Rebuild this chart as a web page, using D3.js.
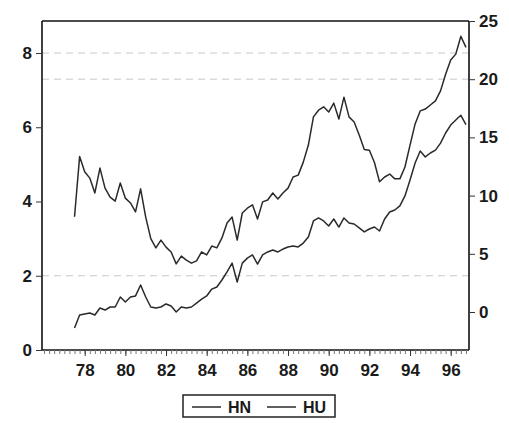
<!DOCTYPE html>
<html>
<head>
<meta charset="utf-8">
<script src="https://cdn.jsdelivr.net/npm/d3@7"></script>
<style>
  html, body { margin: 0; padding: 0; background: #fff; }
  svg { display: block; }
  text { font-family: "Liberation Sans", Arial, sans-serif; font-weight: bold; fill: #1a1a1a; }
</style>
</head>
<body>
<svg id="chart" width="509" height="423"></svg>
<script>
// Quarterly series, 1977Q3 .. 1996Q4
const startPeriod = 1977.5;

// HN, plotted against the left scale
const hn = [
  3.59, 5.21, 4.80, 4.63, 4.23, 4.90, 4.36, 4.12, 4.01, 4.50,
  4.09, 3.96, 3.72, 4.34, 3.58, 3.00, 2.75, 2.96, 2.77, 2.64,
  2.32, 2.53, 2.42, 2.34, 2.40, 2.64, 2.56, 2.80, 2.75, 3.02,
  3.42, 3.58, 2.96, 3.69, 3.82, 3.91, 3.53, 3.99, 4.04, 4.23,
  4.07, 4.23, 4.36, 4.66, 4.71, 5.06, 5.52, 6.28, 6.46, 6.55,
  6.41, 6.65, 6.22, 6.81, 6.28, 6.14, 5.79, 5.40, 5.38, 5.05,
  4.53, 4.66, 4.74, 4.61, 4.61, 4.93, 5.52, 6.09, 6.44, 6.49,
  6.60, 6.71, 6.98, 7.43, 7.81, 7.97, 8.45, 8.15
];

// HU, plotted against the right scale
const hu = [
  -1.38, -0.26, -0.17, -0.09, -0.26, 0.34, 0.17, 0.43, 0.43, 1.29,
  0.86, 1.29, 1.38, 2.32, 1.29, 0.43, 0.34, 0.43, 0.69, 0.52,
  0.00, 0.43, 0.34, 0.43, 0.77, 1.11, 1.38, 1.97, 2.15, 2.75,
  3.44, 4.20, 2.58, 4.20, 4.63, 4.90, 4.12, 4.90, 5.16, 5.33,
  5.16, 5.41, 5.59, 5.67, 5.59, 5.92, 6.45, 7.82, 8.08, 7.82,
  7.39, 7.99, 7.30, 8.08, 7.65, 7.56, 7.22, 6.88, 7.13, 7.30,
  6.96, 7.99, 8.59, 8.76, 9.11, 9.97, 11.34, 12.80, 13.83, 13.32,
  13.66, 13.91, 14.51, 15.38, 16.06, 16.49, 16.90, 16.09
];

const yearTicks = [1978, 1980, 1982, 1984, 1986, 1988, 1990, 1992, 1994, 1996];
const yearLabels = ["78", "80", "82", "84", "86", "88", "90", "92", "94", "96"];
const leftTicks = [0, 2, 4, 6, 8];
const rightTicks = [0, 5, 10, 15, 20, 25];
const gridLeft = [8, 2];
const gridRight = [20];
const seriesNames = ["HN", "HU"];

const svg = d3.select("#chart");
const plot = { left: 42, right: 469, top: 21, bottom: 350 };

const x = d3.scaleLinear().domain([1975.9, 1996.9]).range([plot.left, plot.right]);
const yL = d3.scaleLinear().domain([0, 8]).range([350, 53]);
const yR = d3.scaleLinear().domain([0, 25]).range([312, plot.top]);

const period = i => startPeriod + i / 4;

// dashed grid
const grid = svg.append("g")
  .attr("stroke", "#c8c8c8").attr("stroke-width", 1).attr("stroke-dasharray", "7,5");
gridLeft.forEach(v => grid.append("line")
  .attr("x1", plot.left).attr("x2", plot.right).attr("y1", yL(v)).attr("y2", yL(v)));
gridRight.forEach(v => grid.append("line")
  .attr("x1", plot.left).attr("x2", plot.right).attr("y1", yR(v)).attr("y2", yR(v)));

// series lines
const lineL = d3.line().x((d, i) => x(period(i))).y(d => yL(d));
const lineR = d3.line().x((d, i) => x(period(i))).y(d => yR(d));
svg.append("path").datum(hn).attr("d", lineL)
  .attr("fill", "none").attr("stroke", "#2a2a2a").attr("stroke-width", 1.5).attr("stroke-linejoin", "round");
svg.append("path").datum(hu).attr("d", lineR)
  .attr("fill", "none").attr("stroke", "#2a2a2a").attr("stroke-width", 1.5).attr("stroke-linejoin", "round");

// frame top
svg.append("line").attr("x1", plot.left).attr("x2", plot.right)
  .attr("y1", plot.top).attr("y2", plot.top).attr("stroke", "#111").attr("stroke-width", 1.6);

// left axis
const axL = svg.append("g").attr("transform", `translate(${plot.left},0)`)
  .call(d3.axisLeft(yL).tickValues(leftTicks).tickSize(6).tickPadding(4).tickFormat(d3.format("d")));
axL.select(".domain").attr("d", `M0,${plot.bottom}V${plot.top}`);

// right axis
const axR = svg.append("g").attr("transform", `translate(${plot.right},0)`)
  .call(d3.axisRight(yR).tickValues(rightTicks).tickSize(6).tickPadding(4).tickFormat(d3.format("d")));
axR.select(".domain").attr("d", `M0,${plot.bottom}V${plot.top}`);

// bottom axis: quarterly minor ticks, yearly labels
const quarterTicks = d3.range(1976, 1997, 0.25).filter(v => x(v) <= plot.right);
const axB = svg.append("g").attr("transform", `translate(0,${plot.bottom})`)
  .call(d3.axisBottom(x).tickValues(quarterTicks).tickSize(4).tickFormat(""));
axB.select(".domain").attr("d", `M${plot.left},0H${plot.right}`);
const axB2 = svg.append("g").attr("transform", `translate(0,${plot.bottom})`)
  .call(d3.axisBottom(x).tickValues(yearTicks).tickSize(6).tickPadding(8)
    .tickFormat((d, i) => yearLabels[i]));
axB2.select(".domain").remove();

[axL, axR, axB, axB2].forEach(g => {
  g.selectAll(".domain").attr("stroke", "#111").attr("stroke-width", 1.6);
  g.selectAll(".tick line").attr("stroke", "#333");
  g.selectAll("text").attr("font-size", 17).attr("fill", "#1a1a1a")
    .attr("font-family", "Liberation Sans, Arial, sans-serif").attr("font-weight", "bold");
});
axB.selectAll(".tick line").attr("stroke", "#777");

// legend
const lg = svg.append("g");
lg.append("rect").attr("x", 183).attr("y", 395).attr("width", 152).attr("height", 22)
  .attr("fill", "#fff").attr("stroke", "#222").attr("stroke-width", 1.5);
const legendItems = [
  { name: seriesNames[0], x0: 192 },
  { name: seriesNames[1], x0: 267 }
];
legendItems.forEach(it => {
  lg.append("line").attr("x1", it.x0).attr("x2", it.x0 + 29).attr("y1", 407).attr("y2", 407)
    .attr("stroke", "#2a2a2a").attr("stroke-width", 1.5);
  lg.append("text").attr("x", it.x0 + 36).attr("y", 413).attr("font-size", 16).text(it.name);
});
</script>
</body>
</html>
